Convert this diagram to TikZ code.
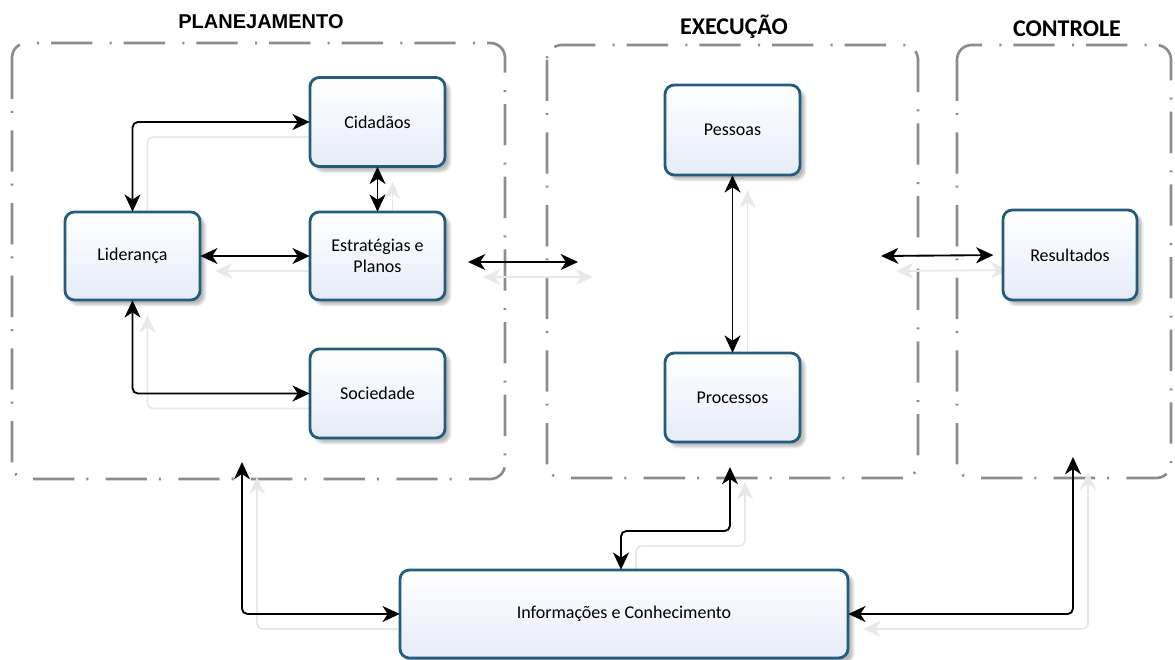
\documentclass[tikz,border=0pt]{standalone}
\usepackage{fontspec}
\setmainfont{Carlito}
\newfontfamily\titlefont{Liberation Sans}
\usetikzlibrary{arrows.meta,shadows.blur,calc}
\definecolor{boxline}{RGB}{34,94,124}
\definecolor{boxfill}{RGB}{230,235,248}
\definecolor{grpline}{RGB}{140,140,140}
\definecolor{ghost}{RGB}{232,232,232}
\colorlet{conncol}{black}
\tikzset{
  box/.style={rectangle, rounded corners=7pt, draw=boxline, line width=2.1pt,
    top color=white, bottom color=boxfill, align=center,
    font=\fontsize{13.5}{16}\selectfont,
    blur shadow={shadow xshift=3.5pt, shadow yshift=-3.5pt, shadow blur steps=8, shadow opacity=28, shadow blur extra rounding=2pt},
    inner sep=0pt},
  grp/.style={draw=grpline, line width=2pt, rounded corners=11pt,
    dash pattern=on 31pt off 9pt on 1.5pt off 13pt},
  tip/.style={Stealth[length=13pt,width=12pt,inset=4pt]},
  conn/.style={draw=conncol, line width=1.4pt, rounded corners=4pt,
    {Stealth[length=13pt,width=12pt,inset=4pt]}-{Stealth[length=13pt,width=12pt,inset=4pt]}},
  ttl/.style={font=\bfseries\fontsize{18}{20}\selectfont},
}
\begin{document}
\begin{tikzpicture}[x=0.75pt,y=-0.75pt]
\useasboundingbox (0,0) rectangle (1175,660);
% groups
\draw[grp] (12,43) rectangle (505,479);
\draw[grp] (547,45) rectangle (918,478);
\draw[grp] (957,45) rectangle (1171,478);
\node[font=\titlefont\bfseries\fontsize{15}{18}\selectfont] (tplan) at (261,22) {PLANEJAMENTO};
\node[ttl] (texec) at (734,27) {EXECUÇÃO};
\node[ttl] (tctrl) at (1067,29) {CONTROLE};
% coordinates of free connector ends
\coordinate (pe1) at (468,262);
\coordinate (pe2) at (578,262);
\coordinate (er1) at (881,256);
\coordinate (plb) at (242,462);
\coordinate (exb) at (730,467);
\coordinate (k9) at (621,531);
\coordinate (ctb) at (1073,457);
% node placeholders (for connector geometry)
\path (377.5,122) node[minimum width={135*0.75pt}, minimum height={89*0.75pt}] (cid) {}
      (132.5,256) node[minimum width={135*0.75pt}, minimum height={88*0.75pt}] (lid) {}
      (377.5,256) node[minimum width={135*0.75pt}, minimum height={88*0.75pt}] (est) {}
      (377.5,393.5) node[minimum width={135*0.75pt}, minimum height={89*0.75pt}] (soc) {}
      (732.5,130) node[minimum width={135*0.75pt}, minimum height={90*0.75pt}] (pes) {}
      (732.5,397.5) node[minimum width={135*0.75pt}, minimum height={89*0.75pt}] (pro) {}
      (1070,255) node[minimum width={134*0.75pt}, minimum height={90*0.75pt}] (res) {}
      (624,614) node[minimum width={448*0.75pt}, minimum height={88*0.75pt}] (inf) {};
% ghost connectors
\begin{scope}[transform canvas={shift={(15,15)}}]
\colorlet{conncol}{ghost}
\draw[conn] (lid.north) |- (cid.west);
\draw[conn] (cid.south) -- (est.north);
\draw[conn] (lid.east) -- (est.west);
\draw[conn] (lid.south) |- (soc.west);
\draw[conn] (pe1) -- (pe2);
\draw[conn, shorten >=7pt] (er1) -- (res.west);
\draw[conn] (pes.south) -- (pro.north);
\draw[conn] (plb) |- (inf.west);
\draw[conn] (exb) |- (k9) -- (k9 |- inf.north);
\draw[conn] (ctb) |- (inf.east);
\end{scope}
% boxes
\node[box, minimum width={135*0.75pt}, minimum height={89*0.75pt}] at (cid) {Cidadãos};
\node[box, minimum width={135*0.75pt}, minimum height={88*0.75pt}] at (lid) {Liderança};
\node[box, minimum width={135*0.75pt}, minimum height={88*0.75pt}] at (est) {Estratégias e\\Planos};
\node[box, minimum width={135*0.75pt}, minimum height={89*0.75pt}] at (soc) {Sociedade};
\node[box, minimum width={135*0.75pt}, minimum height={90*0.75pt}] at (pes) {Pessoas};
\node[box, minimum width={135*0.75pt}, minimum height={89*0.75pt}] at (pro) {Processos};
\node[box, minimum width={134*0.75pt}, minimum height={90*0.75pt}] at (res) {Resultados};
\node[box, minimum width={448*0.75pt}, minimum height={88*0.75pt}] at (inf) {Informações e Conhecimento};
% connectors
\draw[conn] (lid.north) |- (cid.west);
\draw[conn] (cid.south) -- (est.north);
\draw[conn] (lid.east) -- (est.west);
\draw[conn] (lid.south) |- (soc.west);
\draw[conn] (pe1) -- (pe2);
\draw[conn, shorten >=7pt] (er1) -- (res.west);
\draw[conn] (pes.south) -- (pro.north);
\draw[conn] (plb) |- (inf.west);
\draw[conn] (exb) |- (k9) -- (k9 |- inf.north);
\draw[conn] (ctb) |- (inf.east);
\end{tikzpicture}
\end{document}
